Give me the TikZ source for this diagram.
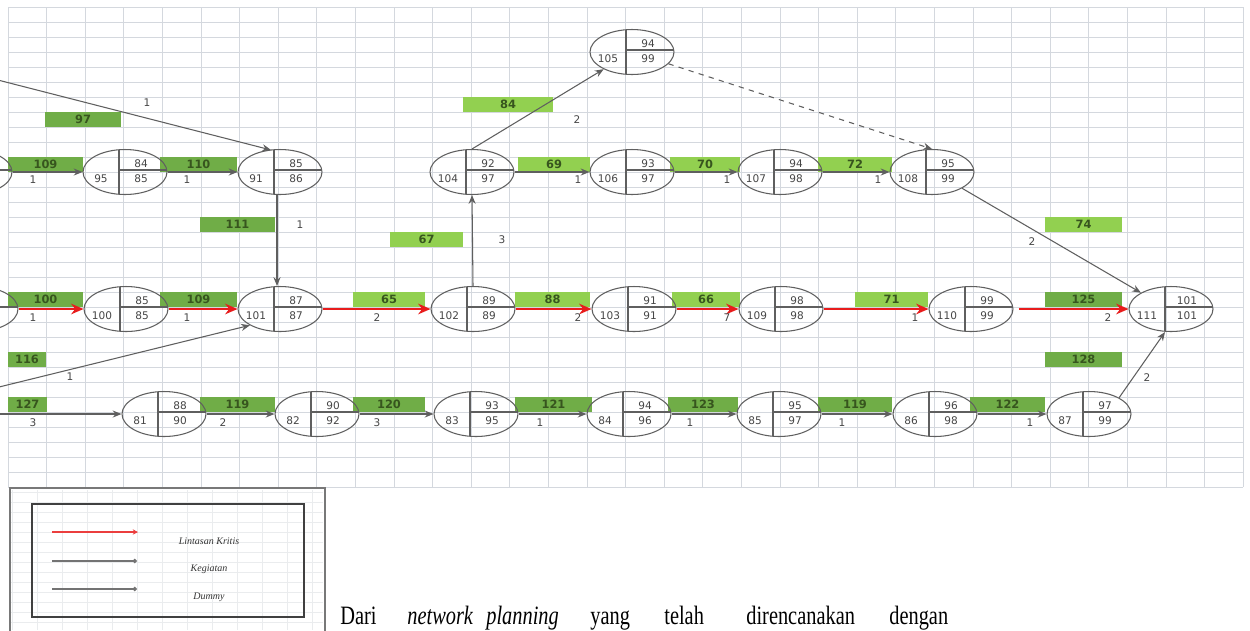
\documentclass[tikz,border=0pt]{standalone}
\usepackage{fontspec}
\setmainfont{Liberation Serif}
\newfontfamily\numfont{DejaVu Sans}
\usetikzlibrary{shapes.geometric,calc,arrows.meta}
\definecolor{gridc}{RGB}{212,216,222}
\definecolor{gridl}{RGB}{234,236,238}
\definecolor{darkbar}{RGB}{112,173,71}
\definecolor{lightbar}{RGB}{146,208,80}
\definecolor{bartext}{RGB}{55,85,30}
\definecolor{nodeline}{RGB}{95,95,95}
\definecolor{txt}{RGB}{70,70,70}
\definecolor{arr}{RGB}{95,95,95}
\definecolor{crit}{RGB}{232,28,28}
\definecolor{frameg}{RGB}{120,120,120}
\newcommand\evt[6]{%
  \node[event] (#1) at (#2,#3) {};
  \draw[divider] ($(#1.center)+(-6,-22.3)$) -- ($(#1.center)+(-6,22.3)$);
  \draw[divider] ($(#1.center)+(-6,-2)$) -- ($(#1.center)+(41.8,-2)$);
  \node[num] (#1-l) at ($(#1.center)+(-24,7)$) {#4};
  \node[num] (#1-t) at ($(#1.center)+(16,-8)$) {#5};
  \node[num] (#1-b) at ($(#1.center)+(16,7)$) {#6};
}
\newcommand\actbar[6]{%
  \node[#1, minimum width={(#4-#3)*0.02cm}] (#2) at ({(#3+#4)/2},{#5+7.5}) {#6};
}
\begin{document}
\begin{tikzpicture}[x=0.02cm,y=-0.02cm,
  gridline/.style={draw=gridc,line width=0.4pt},
  lgrid/.style={draw=gridl,line width=0.4pt},
  event/.style={ellipse,draw=nodeline,line width=0.6pt,minimum width=1.68cm,minimum height=0.9cm,inner sep=0pt},
  divider/.style={draw=nodeline,line width=0.6pt},
  barD/.style={fill=darkbar,inner sep=0pt,minimum height=0.3cm,font=\numfont\fontsize{6.5}{7}\selectfont\bfseries,text=bartext},
  barL/.style={barD,fill=lightbar},
  dur/.style={font=\numfont\fontsize{6}{7}\selectfont,text=txt,inner sep=0pt},
  num/.style={font=\numfont\fontsize{6}{7}\selectfont,text=txt,inner sep=0pt},
  act/.style={draw=arr,line width=0.6pt,-{Stealth[length=5pt,width=4pt]}},
  critical/.style={draw=crit,line width=1.6pt,-{Stealth[length=7pt,width=6pt]}},
  dummy/.style={act,dashed},
  legtext/.style={font=\fontsize{5.7}{6}\selectfont\itshape,text=black!80,inner sep=0pt},
  word/.style={anchor=base west,inner sep=0pt,font=\fontsize{11.6}{12}\selectfont}]
\clip (0,0) rectangle (1250,630);
\fill[white] (0,0) rectangle (1250,630);
% grid
\foreach \i in {0,...,32} \draw[gridline] ({8+38.6*\i},7) -- ({8+38.6*\i},487);
\foreach \j in {0,...,32} \draw[gridline] (8,{7+15*\j}) -- (1243.2,{7+15*\j});
% activity bars
\actbar{barD}{b97}{45}{121}{112}{97}
\actbar{barD}{b109a}{8}{83}{157}{109}
\actbar{barD}{b110}{160}{237}{157}{110}
\actbar{barD}{b111}{200}{275}{217}{111}
\actbar{barL}{b84}{463}{553}{97}{84}
\actbar{barL}{b67}{390}{463}{232}{67}
\actbar{barL}{b69}{518}{590}{157}{69}
\actbar{barL}{b70}{670}{740}{157}{70}
\actbar{barL}{b72}{818}{892}{157}{72}
\actbar{barL}{b74}{1045}{1122}{217}{74}
\actbar{barD}{b100}{8}{83}{292}{100}
\actbar{barD}{b109b}{160}{237}{292}{109}
\actbar{barL}{b65}{353}{425}{292}{65}
\actbar{barL}{b88}{515}{590}{292}{88}
\actbar{barL}{b66}{672}{740}{292}{66}
\actbar{barL}{b71}{855}{928}{292}{71}
\actbar{barD}{b125}{1045}{1122}{292}{125}
\actbar{barD}{b116}{8}{46}{352}{116}
\actbar{barD}{b128}{1045}{1122}{352}{128}
\actbar{barD}{b127}{8}{47}{397}{127}
\actbar{barD}{b119a}{200}{275}{397}{119}
\actbar{barD}{b120}{353}{425}{397}{120}
\actbar{barD}{b121}{515}{592}{397}{121}
\actbar{barD}{b123}{668}{738}{397}{123}
\actbar{barD}{b119b}{818}{892}{397}{119}
\actbar{barD}{b122}{970}{1045}{397}{122}
% events
\evt{P1}{-30}{172}{}{}{}
\evt{N95}{125}{172}{95}{84}{85}
\evt{N91}{280}{172}{91}{85}{86}
\evt{N104}{472}{172}{104}{92}{97}
\evt{N106}{632}{172}{106}{93}{97}
\evt{N107}{780}{172}{107}{94}{98}
\evt{N108}{932}{172}{108}{95}{99}
\evt{N105}{632}{52}{105}{94}{99}
\evt{P2}{-24}{309}{}{}{}
\evt{N100}{126}{309}{100}{85}{85}
\evt{N101}{280}{309}{101}{87}{87}
\evt{N102}{473}{309}{102}{89}{89}
\evt{N103}{634}{309}{103}{91}{91}
\evt{N109}{781}{309}{109}{98}{98}
\evt{N110}{971}{309}{110}{99}{99}
\evt{N111}{1171}{309}{111}{101}{101}
\evt{N81}{164}{414}{81}{88}{90}
\evt{N82}{317}{414}{82}{90}{92}
\evt{N83}{476}{414}{83}{93}{95}
\evt{N84}{629}{414}{84}{94}{96}
\evt{N85}{779}{414}{85}{95}{97}
\evt{N86}{935}{414}{86}{96}{98}
\evt{N87}{1089}{414}{87}{97}{99}
% free ends
\coordinate (s1) at (-10,78);
\coordinate (s2) at (-5,388);
\coordinate (s3) at (-5,414);
% activities
\draw[act] (P1) -- (N95);
\draw[act] (N95) -- (N91);
\draw[act] (s1) -- ($(N91.north)+(-9,1)$);
\draw[act] ($(N91.south)+(-3,0)$) -- ($(N101.north)+(-3,0)$);
\draw[act] (N104) -- (N106);
\draw[act] (N106) -- (N107);
\draw[act] (N107) -- (N108);
\draw[act] (N104.north) -- (N105);
\draw[dummy] (N105) -- (N108.north);
\draw[act] (N108.south east) -- (N111.north west);
\draw[act] (N102.north) -- (N104.south);
\draw[act] (s2) -- (N101.south west);
\draw[act] (N87.north east) -- ($(N111.south)+(-6,0)$);
\draw[act] (s3) -- (N81);
\draw[act] (N81) -- (N82);
\draw[act] (N82) -- (N83);
\draw[act] (N83) -- (N84);
\draw[act] (N84) -- (N85);
\draw[act] (N85) -- (N86);
\draw[act] (N86) -- (N87);
% critical path
\draw[critical] (P2) -- (N100);
\draw[critical] (N100) -- (N101);
\draw[critical] (N101) -- (N102);
\draw[critical] (N102) -- (N103);
\draw[critical] (N103) -- (N109);
\draw[critical] (N109) -- (N110);
\draw[critical] ($(N110.east)+(5,0)$) -- (N111);
% durations
\node[dur] (d01) at (147,103) {1};
\node[dur] (d02) at (33,180) {1};
\node[dur] (d03) at (187,180) {1};
\node[dur] (d04) at (300,225) {1};
\node[dur] (d05) at (577,120) {2};
\node[dur] (d06) at (502,240) {3};
\node[dur] (d07) at (578,180) {1};
\node[dur] (d08) at (727,180) {1};
\node[dur] (d09) at (878,180) {1};
\node[dur] (d10) at (1032,242) {2};
\node[dur] (d11) at (33,318) {1};
\node[dur] (d12) at (187,318) {1};
\node[dur] (d13) at (377,318) {2};
\node[dur] (d14) at (578,318) {2};
\node[dur] (d15) at (727,318) {7};
\node[dur] (d16) at (915,318) {1};
\node[dur] (d17) at (1108,318) {2};
\node[dur] (d18) at (70,377) {1};
\node[dur] (d19) at (1147,378) {2};
\node[dur] (d20) at (33,423) {3};
\node[dur] (d21) at (223,423) {2};
\node[dur] (d22) at (377,423) {3};
\node[dur] (d23) at (540,423) {1};
\node[dur] (d24) at (690,423) {1};
\node[dur] (d25) at (842,423) {1};
\node[dur] (d26) at (1030,423) {1};
% legend
\foreach \i in {0,...,12} \draw[lgrid] ({12+25*\i},490) -- ({12+25*\i},630);
\foreach \j in {0,...,14} \draw[lgrid] (10,{492+10*\j}) -- (323,{492+10*\j});
\draw[draw=frameg,line width=1.3pt] (10,488) rectangle (325,640);
\node[draw=black!75,line width=1pt,minimum width={272*0.02cm},minimum height={113*0.02cm},inner sep=0pt] (legbox) at (168,560.5) {};
\coordinate (l1a) at (52,532); \coordinate (l1b) at (138,532);
\coordinate (l2a) at (52,561); \coordinate (l2b) at (137,561);
\coordinate (l3a) at (52,589); \coordinate (l3b) at (137,589);
\draw[draw=crit!85,line width=1.5pt,-{Stealth[length=3pt,width=3pt]}] (l1a) -- (l1b);
\draw[draw=black!55,line width=0.6pt,-{Circle[length=2.5pt]}] (l2a) -- (l2b);
\draw[draw=black!55,line width=0.6pt,-{Circle[length=2.5pt]}] (l3a) -- (l3b);
\node[legtext] (lt1) at (209,541) {Lintasan Kritis};
\node[legtext] (lt2) at (209,569) {Kegiatan};
\node[legtext] (lt3) at (209,597) {Dummy};
% body text
\node[word] (w1) at (340,624) {\scalebox{1}[1.3]{Dari}};
\node[word] (w2) at (407,624) {\scalebox{1}[1.3]{\itshape network}};
\node[word] (w3) at (486,624) {\scalebox{1}[1.3]{\itshape planning}};
\node[word] (w4) at (590,624) {\scalebox{1}[1.3]{yang}};
\node[word] (w5) at (664,624) {\scalebox{1}[1.3]{telah}};
\node[word] (w6) at (746,624) {\scalebox{1}[1.3]{direncanakan}};
\node[word] (w7) at (889,624) {\scalebox{1}[1.3]{dengan}};
\end{tikzpicture}
\end{document}
